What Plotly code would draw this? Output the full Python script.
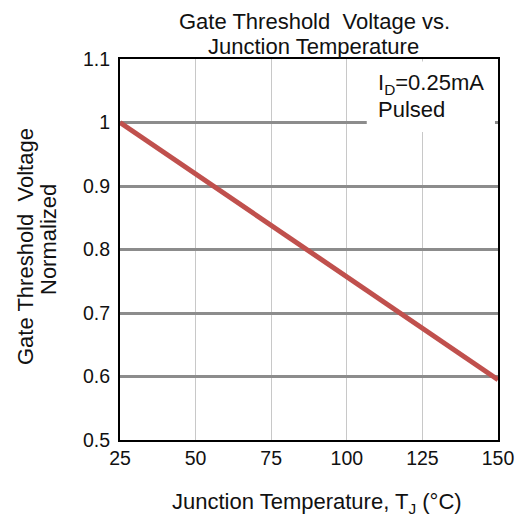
import plotly.graph_objects as go

# Data
temps = [25, 150]                 # Junction temperature (°C)
vth_norm = [1.0, 0.595]           # Normalized gate threshold voltage

x_ticks = [25, 50, 75, 100, 125, 150]
x_tick_text = ["25", "50", "75", "100", "125", "150"]
y_ticks = [0.5, 0.6, 0.7, 0.8, 0.9, 1.0, 1.1]
y_tick_text = ["0.5", "0.6", "0.7", "0.8", "0.9", "1", "1.1"]

title_lines = ["Gate Threshold  Voltage vs.", "Junction Temperature"]
x_title = "Junction Temperature, T<sub>J</sub> (°C)"
y_title_lines = ["Gate Threshold  Voltage", "Normalized"]
note_lines = ["I<sub>D</sub>=0.25mA", "Pulsed"]

FONT = "Arial, 'Liberation Sans', sans-serif"
TXT = "#111111"
W, H = 526, 523
L, R, T, B = 120, 26, 59, 83

fig = go.Figure()
fig.add_trace(go.Scatter(
    x=temps, y=vth_norm, mode="lines",
    line=dict(color="#c0504d", width=5),
    showlegend=False, hoverinfo="skip",
))

fig.update_layout(
    width=W, height=H, autosize=False,
    margin=dict(l=L, r=R, t=T, b=B),
    paper_bgcolor="white", plot_bgcolor="white",
    font=dict(family=FONT, size=20, color=TXT),
    xaxis=dict(range=[25, 150], tickvals=x_ticks, ticktext=x_tick_text,
               showgrid=True, gridcolor="#c8c8c8", gridwidth=1,
               showline=True, linecolor="black", linewidth=2, mirror=True,
               ticks="", zeroline=False,
               tickfont=dict(family=FONT, size=19.5, color=TXT)),
    yaxis=dict(range=[0.5, 1.1], tickvals=y_ticks, ticktext=y_tick_text,
               showgrid=True, gridcolor="#8c8c8c", gridwidth=2.5,
               showline=True, linecolor="black", linewidth=2, mirror=True,
               ticks="", zeroline=False, ticklabelstandoff=4,
               tickfont=dict(family=FONT, size=19.5, color=TXT)),
)

# white box of the note, covering the gridline
fig.add_shape(type="rect", xref="x", yref="y",
              x0=106.6, x1=149.0, y0=0.985, y1=1.096,
              fillcolor="white", line=dict(width=0), layer="above")


def pix_text(text, px, py, xanchor="center", angle=0, size=22):
    """Place a text at pixel (px, py) of the page, relative to the plot corner."""
    fig.add_annotation(text=text, xref="paper", yref="paper", x=0, y=1,
                       xshift=px - L, yshift=T - py,
                       xanchor=xanchor, yanchor="middle", textangle=angle,
                       showarrow=False, align="left",
                       font=dict(family=FONT, size=size, color=TXT))


# title
pix_text(title_lines[0], 314, 21)
pix_text(title_lines[1], 313, 46)
# note
pix_text(note_lines[0], 376, 84, xanchor="left")
pix_text(note_lines[1], 376, 109, xanchor="left")
# axis titles
pix_text(x_title, 317, 503)
pix_text(y_title_lines[0], 25, 247, angle=-90)
pix_text(y_title_lines[1], 48, 240, angle=-90)

fig.write_html("out.html")
